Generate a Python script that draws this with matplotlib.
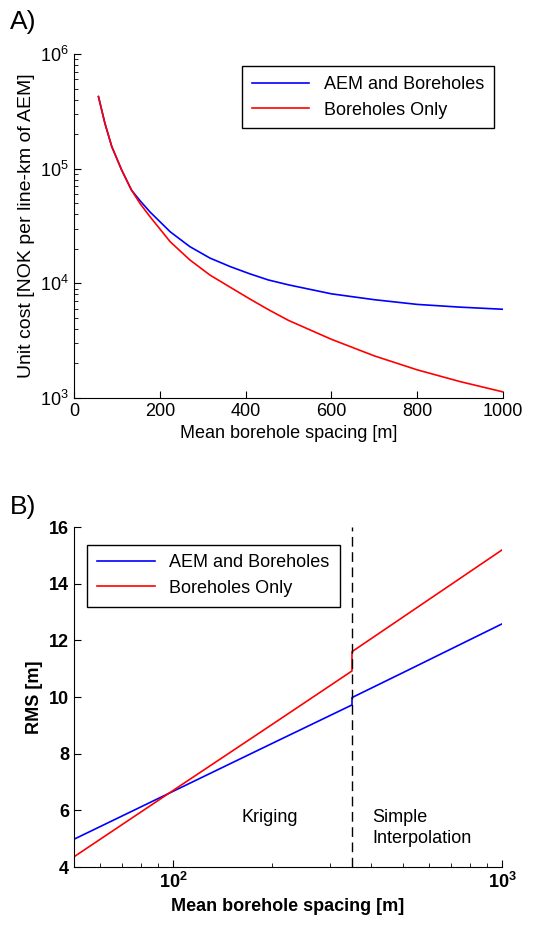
import numpy as np
import matplotlib
matplotlib.use("Agg")
import matplotlib.pyplot as plt
from matplotlib.ticker import LogLocator, NullFormatter, FixedLocator

plt.rcParams['font.family'] = ['Liberation Sans', 'DejaVu Sans']
plt.rcParams['mathtext.fontset'] = 'custom'
plt.rcParams['mathtext.rm'] = 'Liberation Sans'
plt.rcParams['mathtext.bf'] = 'Liberation Sans:bold'

# Panel A: unit cost vs spacing
spacing_a = [57, 72, 88, 111, 134, 155, 177, 224, 270, 317, 364, 410, 453,
             500, 600, 700, 800, 900, 1000]
cost_aem = [4.25e5, 2.49e5, 1.56e5, 9.75e4, 6.5e4, 5.2e4, 4.2e4, 2.82e4, 2.09e4, 1.66e4,
            1.4e4, 1.21e4, 1.07e4, 9.7e3, 8.1e3, 7.2e3, 6.55e3, 6.2e3, 5.94e3]
cost_bh = [4.25e5, 2.49e5, 1.56e5, 9.75e4, 6.5e4, 4.9e4, 3.82e4, 2.31e4, 1.6e4, 1.18e4,
           9.25e3, 7.3e3, 5.9e3, 4.75e3, 3.25e3, 2.33e3, 1.76e3, 1.39e3, 1.13e3]

# Panel B: RMS vs spacing, jump at 350 m (kriging -> simple interpolation)
spacing_b = [50, 100, 200, 350, 350, 500, 1000]
rms_aem = [4.98, 6.67, 8.36, 9.72, 9.98, 10.86, 12.58]
rms_bh = [4.36, 6.70, 9.03, 10.92, 11.6, 12.82, 15.19]
split_x = 350

fig = plt.figure(figsize=(5.43, 9.30), dpi=100)
W, H = 543, 930

def axes_px(x0, y0, x1, y1):
    return fig.add_axes([x0 / W, 1 - y1 / H, (x1 - x0) / W, (y1 - y0) / H])

fs = 13

# ---- A ----
ax1 = axes_px(74, 54, 503, 398)
ax1.plot(spacing_a, cost_aem, color='#0000ff', lw=1.2, label='AEM and Boreholes')
ax1.plot(spacing_a, cost_bh, color='#ff0000', lw=1.2, label='Boreholes Only')
ax1.set_yscale('log')
ax1.set_xlim(0, 1000)
ax1.set_ylim(1e3, 1e6)
ax1.set_xticks([0, 200, 400, 600, 800, 1000])
ax1.yaxis.set_minor_locator(LogLocator(base=10, subs=np.arange(2, 10)))
ax1.yaxis.set_minor_formatter(NullFormatter())
ax1.tick_params(which='both', direction='in', labelsize=fs)
ax1.tick_params(which='major', length=5)
ax1.tick_params(which='minor', length=3)
for s in ['top', 'right']:
    ax1.spines[s].set_visible(False)
ax1.set_xlabel('Mean borehole spacing [m]', fontsize=fs)
ax1.set_ylabel('Unit cost [NOK per line-km of AEM]', fontsize=14)
leg1 = ax1.legend(loc='upper right', bbox_to_anchor=(1.0, 0.99), fontsize=fs,
                  fancybox=False, edgecolor='black', framealpha=1, handlelength=3.2,
                  borderpad=0.55, labelspacing=0.45)
leg1.get_frame().set_linewidth(1.0)
fig.text(10 / W, 1 - 22 / H, 'A)', fontsize=19, va='center', ha='left')

# ---- B ----
ax2 = axes_px(74, 527, 502, 867)
ax2.plot(spacing_b, rms_aem, color='#0000ff', lw=1.2, label='AEM and Boreholes')
ax2.plot(spacing_b, rms_bh, color='#ff0000', lw=1.2, label='Boreholes Only')
ax2.axvline(split_x, color='black', lw=1.0, ls=(0, (7, 4)))
ax2.set_xscale('log')
ax2.set_xlim(50, 1000)
ax2.set_ylim(4, 16)
ax2.set_yticks([4, 6, 8, 10, 12, 14, 16])
ax2.xaxis.set_major_locator(FixedLocator([100, 1000]))
ax2.xaxis.set_minor_locator(LogLocator(base=10, subs=np.arange(2, 10)))
ax2.xaxis.set_minor_formatter(NullFormatter())
ax2.tick_params(which='both', direction='in', labelsize=fs)
ax2.tick_params(which='major', length=5)
ax2.tick_params(which='minor', length=3)
for lab in ax2.get_xticklabels() + ax2.get_yticklabels():
    lab.set_fontweight('bold')
for s in ['top', 'right']:
    ax2.spines[s].set_visible(False)
ax2.set_xlabel('Mean borehole spacing [m]', fontsize=fs, fontweight='bold')
ax2.set_ylabel('RMS [m]', fontsize=fs, fontweight='bold')
leg2 = ax2.legend(loc='upper left', bbox_to_anchor=(0.01, 0.975), fontsize=fs,
                  fancybox=False, edgecolor='black', framealpha=1, handlelength=3.2,
                  borderpad=0.55, labelspacing=0.45)
leg2.get_frame().set_linewidth(1.0)
ax2.text(197, 5.76, 'Kriging', fontsize=fs, ha='center', va='center')
ax2.text(403, 5.38, 'Simple\nInterpolation', fontsize=fs, ha='left', va='center',
         linespacing=1.3)
fig.text(10 / W, 1 - 507 / H, 'B)', fontsize=19, va='center', ha='left')

fig.savefig('out.png', dpi=100)
